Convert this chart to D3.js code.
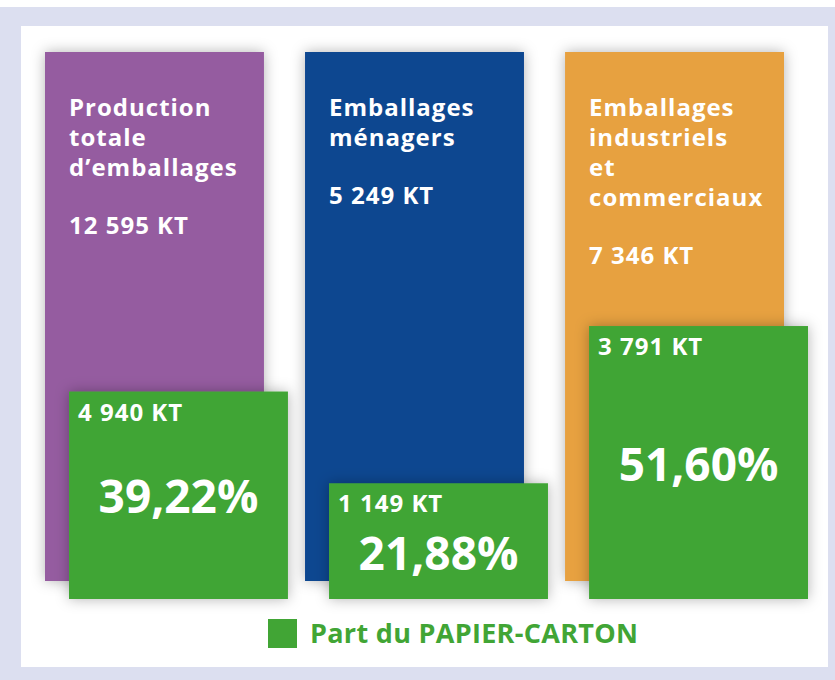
<!DOCTYPE html>
<html>
<head>
<meta charset="utf-8">
<script src="https://cdn.jsdelivr.net/npm/d3@7"></script>
<style>
  body { margin: 0; background: #fff; }
  svg { display: block; font-family: "Open Sans", "Noto Sans", sans-serif; font-weight: 700; }
</style>
</head>
<body>
<div id="chart"></div>
<script>
// data
var categories = ["prod", "menagers", "industriels"];
var titles = [
    ["Production", "totale", "d\u2019emballages"],
    ["Emballages", "ménagers"],
    ["Emballages", "industriels", "et", "commerciaux"]
];
var totals = [12595, 5249, 7346];       // KT
var papier = [4940, 1149, 3791];        // KT, part papier-carton
var shares = [39.22, 21.88, 51.60];     // %
var barColors = ["#955ba0", "#0c4690", "#e7a13f"];
var green = "#41a535";
var legendLabel = "Part du PAPIER-CARTON";

var W = 835, H = 680;

var fr = d3.formatLocale({ decimal: ",", thousands: "\u00a0", grouping: [3], currency: ["", ""] });
var fmtKT = function (v) { return fr.format(",d")(v) + " KT"; };
var fmtPct = function (v) { return fr.format(".2f")(v) + "%"; };

var svg = d3.select("#chart").append("svg")
    .attr("width", W)
    .attr("height", H);

var defs = svg.append("defs");
var f = defs.append("filter").attr("id", "shadow")
    .attr("x", "-20%").attr("y", "-20%").attr("width", "140%").attr("height", "140%");
f.append("feDropShadow")
    .attr("dx", 0).attr("dy", 0)
    .attr("stdDeviation", 7)
    .attr("flood-color", "#000")
    .attr("flood-opacity", 0.3);

// frame
svg.append("rect").attr("x", 0).attr("y", 7).attr("width", W).attr("height", H - 7).attr("fill", "#dcdff0");
svg.append("rect").attr("x", 21).attr("y", 26).attr("width", 807).attr("height", 641).attr("fill", "#fff");

// scales
var x = d3.scaleBand()
    .domain(categories)
    .range([45, 784])
    .paddingInner(0.158)
    .paddingOuter(0);

var y = d3.scaleLinear()
    .domain([0, 100])
    .range([581, 52]);

var drop = 18, shift = 24;

var data = categories.map(function (c, i) {
    return { key: c, title: titles[i], total: totals[i], papier: papier[i], share: shares[i], color: barColors[i] };
});

var g = svg.append("g").selectAll("g")
    .data(data)
    .enter().append("g");

// main bars (100%)
g.append("rect")
    .attr("x", function (d) { return x(d.key); })
    .attr("y", y(100))
    .attr("width", x.bandwidth())
    .attr("height", y(0) - y(100))
    .attr("fill", function (d) { return d.color; })
    .attr("filter", "url(#shadow)");

// titles
g.each(function (d) {
    var sel = d3.select(this);
    var tx = x(d.key) + 24;
    d.title.forEach(function (line, j) {
        sel.append("text")
            .attr("x", tx)
            .attr("y", 116 + j * 30)
            .attr("fill", "#fff")
            .attr("font-size", 24)
            .attr("letter-spacing", 1)
            .text(line);
    });
    sel.append("text")
        .attr("x", tx)
        .attr("y", 116 + (d.title.length - 1) * 30 + 58)
        .attr("fill", "#fff")
        .attr("font-size", 24)
        .attr("letter-spacing", 1)
        .text(fmtKT(d.total));
});

// green share bars
g.append("rect")
    .attr("x", function (d) { return x(d.key) + shift; })
    .attr("y", function (d) { return y(d.share) + drop; })
    .attr("width", x.bandwidth())
    .attr("height", function (d) { return y(0) - y(d.share); })
    .attr("fill", green)
    .attr("filter", "url(#shadow)");

g.append("text")
    .attr("x", function (d) { return x(d.key) + shift + 9; })
    .attr("y", function (d) { return y(d.share) + drop + 29; })
    .attr("fill", "#fff")
    .attr("font-size", 24)
    .attr("letter-spacing", 1)
    .text(function (d) { return fmtKT(d.papier); });

g.append("text")
    .attr("x", function (d) { return x(d.key) + shift + x.bandwidth() / 2; })
    .attr("y", function (d) {
        var top = y(d.share) + drop, bot = y(0) + drop;
        return Math.max(top + 87, (top + bot) / 2 + 18);
    })
    .attr("text-anchor", "middle")
    .attr("fill", "#fff")
    .attr("font-size", 46)
    .text(function (d) { return fmtPct(d.share); });

// legend
var lg = svg.append("g").attr("transform", "translate(268,619)");
lg.append("rect").attr("width", 29).attr("height", 29).attr("fill", green);
lg.append("text")
    .attr("x", 42)
    .attr("y", 24)
    .attr("fill", green)
    .attr("font-size", 27)
    .attr("letter-spacing", 0.3)
    .text(legendLabel);
</script>
</body>
</html>
